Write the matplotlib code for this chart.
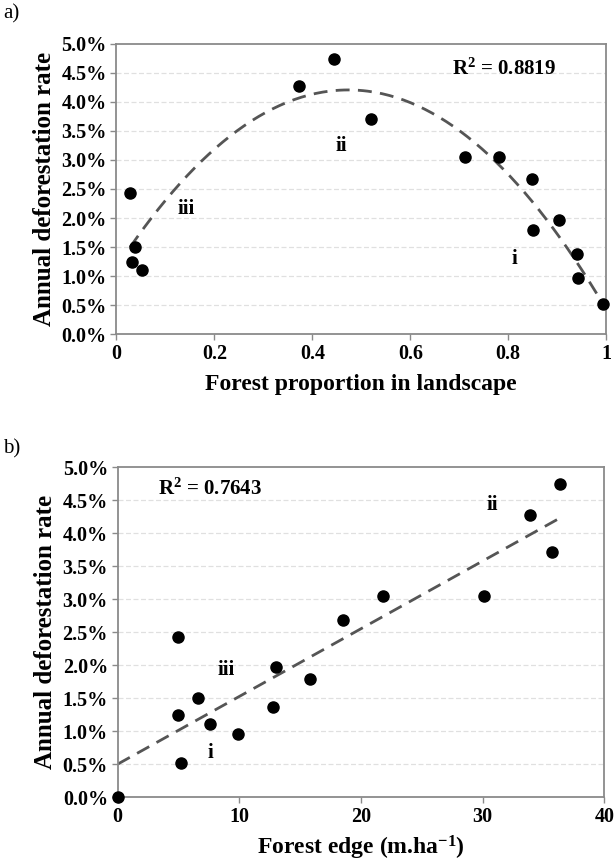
import numpy as np
import matplotlib.pyplot as plt
from matplotlib.ticker import FuncFormatter

plt.rcParams['font.family'] = ['Liberation Serif', 'DejaVu Serif']
plt.rcParams['mathtext.fontset'] = 'custom'
plt.rcParams['mathtext.rm'] = 'Liberation Serif:bold'
plt.rcParams['mathtext.bf'] = 'Liberation Serif:bold'
plt.rcParams['mathtext.default'] = 'bf'

# a) forest proportion vs annual deforestation rate (%)
prop = [0.028, 0.037, 0.032, 0.053, 0.372, 0.445, 0.520, 0.712, 0.782,
        0.849, 0.851, 0.903, 0.941, 0.943, 0.994]
rate_a = [2.43, 1.50, 1.25, 1.10, 4.28, 4.74, 3.70, 3.05, 3.05,
          2.68, 1.79, 1.97, 1.38, 0.97, 0.51]

# b) forest edge vs annual deforestation rate (%)
edge = [0.0, 5.0, 5.2, 5.0, 6.6, 7.6, 9.9, 12.8, 13.0, 15.8, 18.5,
        21.8, 30.1, 33.9, 35.7, 36.4]
rate_b = [0.0, 2.43, 0.51, 1.25, 1.50, 1.10, 0.96, 1.37, 1.97, 1.79, 2.68,
          3.05, 3.05, 4.28, 3.71, 4.74]

r2_a = '0.8819'
r2_b = '0.7643'

pct = FuncFormatter(lambda v, p: '%.1f%%' % v)

fig = plt.figure(figsize=(6.16, 8.61), dpi=100)
ax1 = fig.add_axes([0.189, 0.612, 0.795, 0.337])
ax2 = fig.add_axes([0.191, 0.0743, 0.790, 0.383])


def style(ax):
    ax.set_ylim(0, 5)
    ax.set_yticks(np.arange(0, 5.01, 0.5))
    ax.yaxis.set_major_formatter(pct)
    for y in np.arange(0.5, 4.51, 0.5):
        ax.axhline(y, color='#e0e0e0', lw=0.9, ls=(0, (4, 2)), zorder=0)
    for s in ax.spines.values():
        s.set_color('#8a8a8a')
        s.set_linewidth(1.3)
    ax.tick_params(axis='both', length=4, width=1, color='#8a8a8a',
                   labelsize=14.5, pad=3)
    for lab in ax.get_xticklabels() + ax.get_yticklabels():
        lab.set_fontweight('bold')
    ax.set_ylabel('Annual deforestation rate', fontsize=18, fontweight='bold',
                  labelpad=4)


# panel a: quadratic trend
ax1.set_xlim(0, 1)
ax1.set_xticks([0, 0.2, 0.4, 0.6, 0.8, 1])
ax1.set_xticklabels(['0', '0.2', '0.4', '0.6', '0.8', '1'])
style(ax1)
c2 = np.polyfit(prop, rate_a, 2)
xs = np.linspace(min(prop), max(prop), 200)
ax1.plot(xs, np.polyval(c2, xs), color='#555555', lw=2, ls=(0, (5, 3)), zorder=2)
ax1.plot(prop, rate_a, 'o', color='black', ms=8, zorder=3, clip_on=False)
ax1.set_xlabel('Forest proportion in landscape', fontsize=17, fontweight='bold',
               labelpad=7)
ax1.text(0.685, 4.56, 'R$^2$ = ' + r2_a, fontsize=15, fontweight='bold', va='center')
ax1.text(0.142, 2.15, 'iii', fontsize=15, fontweight='bold', ha='center', va='center')
ax1.text(0.46, 3.24, 'ii', fontsize=15, fontweight='bold', ha='center', va='center')
ax1.text(0.812, 1.29, 'i', fontsize=15, fontweight='bold', ha='center', va='center')

# panel b: linear trend
ax2.set_xlim(0, 40)
ax2.set_xticks([0, 10, 20, 30, 40])
style(ax2)
c1 = np.polyfit(edge, rate_b, 1)
xs = np.linspace(0, max(edge), 50)
ax2.plot(xs, np.polyval(c1, xs), color='#555555', lw=2, ls=(0, (5, 3)), zorder=2)
ax2.plot(edge, rate_b, 'o', color='black', ms=8, zorder=3, clip_on=False)
ax2.set_xlabel('Forest edge (m.ha$^{-1}$)', fontsize=17, fontweight='bold',
               labelpad=5)
ax2.text(3.3, 4.66, 'R$^2$ = ' + r2_b, fontsize=15, fontweight='bold', va='center')
ax2.text(30.8, 4.43, 'ii', fontsize=15, fontweight='bold', ha='center', va='center')
ax2.text(8.9, 1.93, 'iii', fontsize=15, fontweight='bold', ha='center', va='center')
ax2.text(7.66, 0.67, 'i', fontsize=15, fontweight='bold', ha='center', va='center')

fig.text(0.005, 0.984, 'a)', fontsize=15, va='center')
fig.text(0.005, 0.479, 'b)', fontsize=15, va='center')

fig.savefig('out.png', dpi=100, facecolor='white')
